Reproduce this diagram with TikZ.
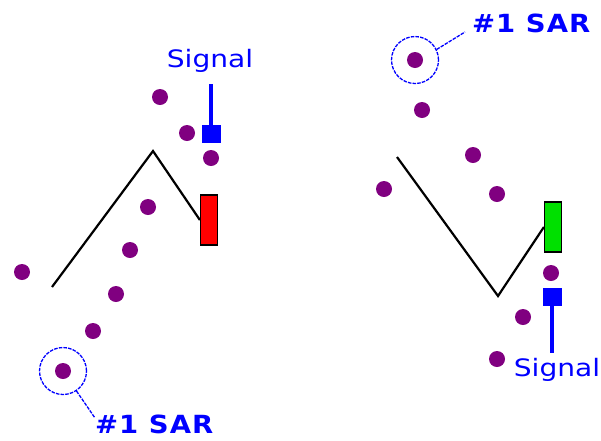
\documentclass[tikz,border=0pt]{standalone}
\usepackage{fontspec}
\newfontfamily\sigfont[FakeStretch=1.17]{DejaVu Sans}
\newfontfamily\sarfont[FakeStretch=1.1,LetterSpace=4]{DejaVu Sans Bold}
\definecolor{sarpurple}{HTML}{800080}
\definecolor{sigblue}{HTML}{0000FF}
\definecolor{bullgreen}{HTML}{00E000}
\begin{document}
\begin{tikzpicture}[x=1pt,y=-1pt,
  dot/.style={circle,fill=sarpurple,inner sep=0pt,minimum size=16pt},
  ring/.style={circle,draw=sigblue,line width=1.3pt,dash pattern=on 3.5pt off 1.2pt,inner sep=0pt,minimum size=47pt},
  lead/.style={draw=sigblue,line width=1.3pt,dash pattern=on 3.5pt off 1.2pt},
  sigtext/.style={text=sigblue,font=\sigfont\fontsize{24}{28}\selectfont,inner sep=0pt},
  sartext/.style={text=sigblue,font=\sarfont\fontsize{25}{28}\selectfont,inner sep=0pt},
  sigsq/.style={fill=sigblue,inner sep=0pt,minimum width=19pt,minimum height=18pt},
  sigline/.style={draw=sigblue,line width=3.5pt},
  candle/.style={draw=black,line width=1.2pt,inner sep=0pt,minimum width=17pt,minimum height=50pt},
  price/.style={draw=black,line width=2.2pt,line join=miter}]
\useasboundingbox (0,0) rectangle (601,440);
% ---------- left chart ----------
\node[dot] (l1) at (22,272) {};
\node[dot] (l2) at (93,331) {};
\node[dot] (l3) at (116,294) {};
\node[dot] (l4) at (130,250) {};
\node[dot] (l5) at (148,207) {};
\node[dot] (l6) at (160,97) {};
\node[dot] (l7) at (187,133) {};
\node[dot] (l8) at (211,158) {};
\node[dot] (l0) at (63,371) {};
\node[ring] (c1) at (63,371) {};
\node[sartext,anchor=west] (sar1) at (95,424) {\#1 SAR};
\coordinate (c1end) at (95,418);
\draw[lead] (c1.-56) -- (c1end);
\node[candle,fill=red] (red) at (209,220) {};
\coordinate (pa) at (52,287);
\coordinate (pb) at (153,151);
\draw[price] (pa) -- (pb) -- (red.west);
\node[sigsq] (sq1) at (211,134) {};
\node[sigtext] (sig1) at (210,61) {Signal};
\coordinate (s1top) at (211,84);
\draw[sigline] (sq1.north) -- (s1top);
% ---------- right chart ----------
\node[dot] (r0) at (415,60) {};
\node[ring] (c2) at (415,60) {};
\node[sartext,anchor=west] (sar2) at (472,23) {\#1 SAR};
\coordinate (c2end) at (465,32);
\draw[lead] (c2.26) -- (c2end);
\node[dot] (r1) at (422,110) {};
\node[dot] (r2) at (473,155) {};
\node[dot] (r3) at (384,189) {};
\node[dot] (r4) at (497,194) {};
\node[dot] (r5) at (551,273) {};
\node[dot] (r6) at (523,317) {};
\node[dot] (r7) at (497,359) {};
\node[candle,fill=bullgreen] (green) at (553,227) {};
\coordinate (qa) at (397,157);
\coordinate (qb) at (498,296);
\draw[price] (qa) -- (qb) -- (green.west);
\node[sigsq] (sq2) at (552,297) {};
\node[sigtext] (sig2) at (557,370) {Signal};
\coordinate (s2bot) at (552,353);
\draw[sigline] (sq2.south) -- (s2bot);
\end{tikzpicture}
\end{document}
